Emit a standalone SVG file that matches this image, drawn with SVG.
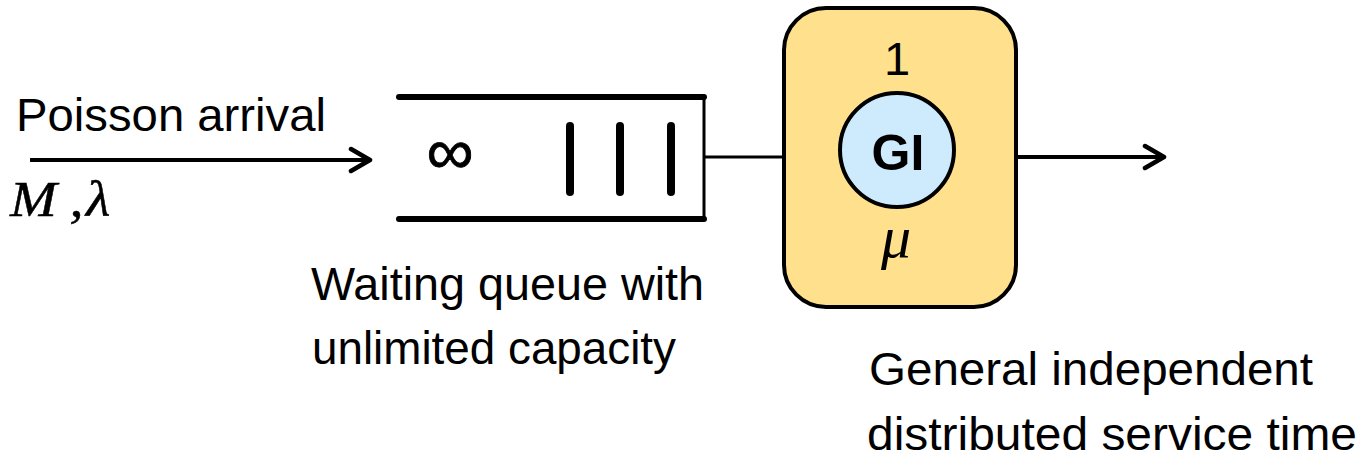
<svg xmlns="http://www.w3.org/2000/svg" width="1362" height="458" viewBox="0 0 1362 458">
  <defs>
    <style>
      .lbl { font-family: "Liberation Sans", Arial, sans-serif; font-size: 47px; fill: #000; }
      .math { font-family: "Liberation Serif", "Times New Roman", serif; font-style: italic; fill: #000; }
      .wire { stroke: #000; stroke-width: 3; fill: none; }
      .rail { stroke: #000; stroke-width: 6; stroke-linecap: round; fill: none; }
      .bar { stroke: #000; stroke-width: 8; stroke-linecap: round; }
    </style>
    <marker id="chev" viewBox="0 0 26 28" refX="22" refY="14" markerWidth="26" markerHeight="28" markerUnits="userSpaceOnUse" orient="auto">
      <path d="M3,3 L22,14 L3,25" fill="none" stroke="#000" stroke-width="4.5" stroke-linecap="round" stroke-linejoin="round"/>
    </marker>
  </defs>

  <rect width="1362" height="458" fill="#fff"/>

  <!-- connectors -->
  <g id="connectors">
    <line class="wire" x1="30" y1="160" x2="370" y2="160" marker-end="url(#chev)" style="stroke-width:4"/>
    <line class="wire" x1="704" y1="157" x2="784" y2="157"/>
    <line class="wire" x1="1016" y1="157" x2="1164" y2="157" marker-end="url(#chev)" style="stroke-width:4"/>
  </g>

  <!-- arrival source -->
  <g id="arrival">
    <text class="lbl" x="16" y="131" textLength="310" lengthAdjust="spacingAndGlyphs">Poisson arrival</text>
    <text class="math" transform="translate(10,216) scale(1.1,1)" font-size="51" stroke="#000" stroke-width="0.5"><tspan x="0">M</tspan><tspan x="54">,</tspan><tspan x="69">λ</tspan></text>
  </g>

  <!-- waiting queue -->
  <g id="queue">
    <line class="rail" x1="399" y1="97" x2="704" y2="97"/>
    <line class="rail" x1="399" y1="219" x2="704" y2="219"/>
    <line class="wire" x1="704" y1="97" x2="704" y2="219"/>
    <text x="450" y="174" text-anchor="middle" font-family="'Liberation Sans', Arial, sans-serif" font-size="66" stroke="#000" stroke-width="0.8">∞</text>
    <line class="bar" x1="570" y1="126" x2="570" y2="192"/>
    <line class="bar" x1="620" y1="126" x2="620" y2="192"/>
    <line class="bar" x1="671" y1="126" x2="671" y2="192"/>
    <text class="lbl" x="311" y="300" textLength="393" lengthAdjust="spacingAndGlyphs">Waiting queue with</text>
    <text class="lbl" x="312" y="364" textLength="364" lengthAdjust="spacingAndGlyphs">unlimited capacity</text>
  </g>

  <!-- server -->
  <g id="server">
    <rect x="784" y="8" width="232" height="299" rx="42" ry="42" fill="#FFE08C" stroke="#000" stroke-width="4"/>
    <text class="lbl" x="897" y="75" text-anchor="middle">1</text>
    <circle cx="897" cy="150" r="57" fill="#CDEBFD" stroke="#000" stroke-width="4"/>
    <text x="898" y="170" text-anchor="middle" font-family="'Liberation Sans', Arial, sans-serif" font-weight="bold" font-size="50">GI</text>
    <text class="math" x="896" y="257" text-anchor="middle" font-size="60">μ</text>
    <text class="lbl" x="869" y="385" textLength="444" lengthAdjust="spacingAndGlyphs">General independent</text>
    <text class="lbl" x="867" y="450" textLength="490" lengthAdjust="spacingAndGlyphs">distributed service time</text>
  </g>
</svg>
